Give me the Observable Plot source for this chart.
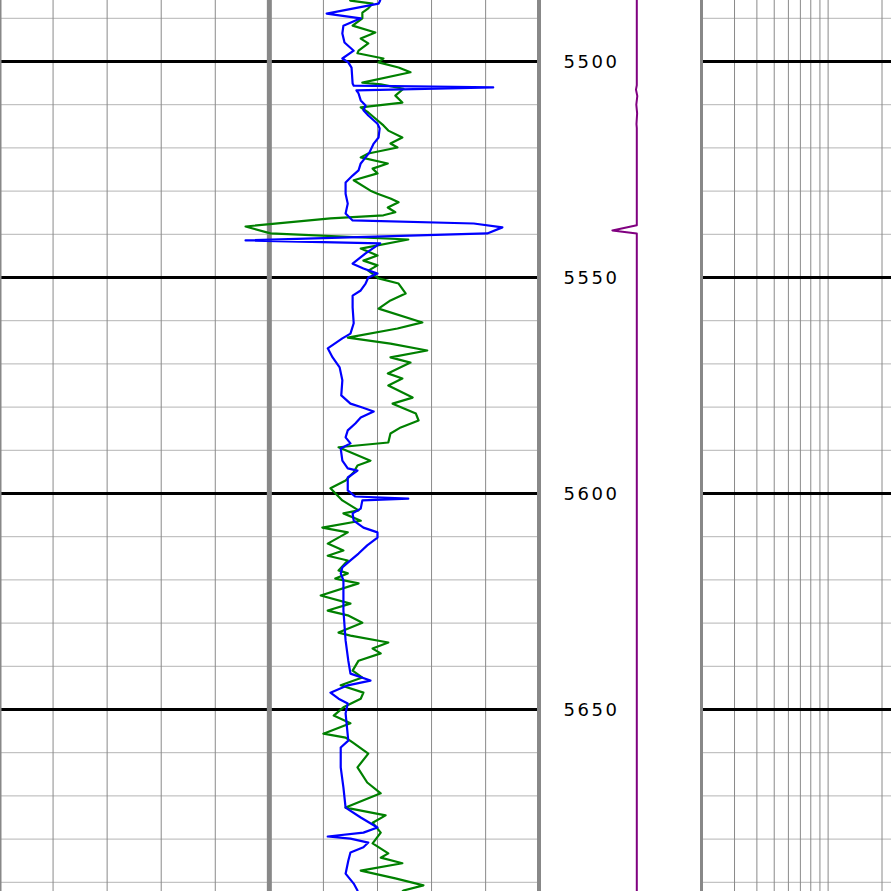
<!DOCTYPE html>
<html>
<head>
<meta charset="utf-8">
<script src="https://cdn.jsdelivr.net/npm/d3@7"></script>
<script src="https://cdn.jsdelivr.net/npm/@observablehq/plot@0.6"></script>
<style>
html, body { margin: 0; padding: 0; background: #fff; }
#wrap { position: relative; width: 891px; height: 891px; overflow: hidden; background: #fff; }
#wrap > svg { position: absolute; top: 0; }
</style>
</head>
<body>
<div id="wrap"></div>
<script>
// ---- Depth scale / ticks ----
const depthTop = 5485.88;
const depthBottom = 5692.13;
const majorDepths = [5500, 5550, 5600, 5650];
const minorDepths = [5490, 5510, 5520, 5530, 5540, 5560, 5570, 5580, 5590, 5610, 5620, 5630, 5640, 5660, 5670, 5680, 5690];
const depthLabels = ["5500", "5550", "5600", "5650"];

// ---- Left (linear) track grid ----
const linearThin = [10, 20, 30, 40, 60, 70, 80, 90];
const linearThick = [0, 50, 100];

// ---- Right (log) track grid ----
const logTicks = [0.3, 0.4, 0.5, 0.6, 0.7, 0.8, 0.9, 1, 2, 3, 4, 5];

// ---- Green curve ----
const greenDepth = [5484.0, 5485.9, 5486.6, 5487.7, 5488.7, 5490.0, 5491.7, 5493.3, 5494.7, 5495.8, 5497.5, 5498.1, 5499.3, 5500.2, 5501.4, 5502.5, 5504.9, 5505.3, 5506.3, 5507.9, 5509.5, 5510.6, 5511.8, 5513.2, 5514.8, 5516.0, 5517.6, 5519.0, 5519.9, 5521.3, 5522.2, 5523.6, 5524.8, 5525.9, 5527.5, 5529.9, 5530.6, 5531.7, 5532.6, 5533.8, 5534.9, 5535.6, 5536.3, 5538.2, 5539.8, 5541.2, 5543.3, 5544.9, 5546.1, 5547.2, 5548.4, 5550.2, 5551.4, 5553.7, 5555.3, 5557.2, 5560.4, 5561.8, 5563.9, 5565.3, 5566.9, 5568.5, 5569.7, 5572.2, 5573.4, 5575.0, 5577.8, 5579.2, 5581.5, 5583.1, 5584.7, 5586.1, 5588.2, 5589.3, 5592.4, 5593.5, 5595.1, 5597.0, 5598.8, 5601.6, 5603.9, 5604.6, 5606.3, 5607.9, 5609.0, 5611.6, 5613.2, 5614.4, 5615.5, 5617.8, 5618.5, 5619.7, 5620.8, 5623.6, 5625.5, 5627.1, 5628.2, 5629.9, 5632.2, 5632.9, 5634.5, 5635.9, 5637.0, 5638.7, 5641.0, 5642.6, 5644.4, 5646.1, 5647.5, 5649.5, 5651.4, 5653.2, 5655.6, 5656.5, 5657.6, 5660.2, 5663.4, 5666.9, 5669.4, 5672.7, 5674.5, 5676.2, 5678.5, 5681.0, 5683.3, 5684.3, 5685.6, 5687.3, 5689.1, 5690.7, 5691.9, 5693.7];
const greenValue = [64.1, 65.0, 69.1, 68.3, 67.2, 67.2, 65.4, 69.6, 66.9, 68.3, 66.5, 66.3, 71.1, 70.2, 73.9, 76.1, 67.2, 70.6, 74.8, 73.3, 74.6, 66.9, 68.3, 69.6, 71.1, 72.0, 74.6, 72.4, 73.7, 68.3, 66.9, 71.9, 69.1, 70.0, 65.6, 68.7, 70.0, 72.4, 73.9, 71.9, 73.3, 71.1, 61.3, 45.6, 50.2, 75.7, 66.9, 70.0, 67.4, 70.0, 68.3, 70.2, 73.9, 75.2, 72.4, 70.2, 78.3, 73.7, 64.5, 72.4, 79.2, 72.4, 76.1, 71.9, 74.6, 72.0, 76.5, 72.8, 77.1, 77.6, 74.3, 72.4, 72.0, 62.8, 68.7, 66.3, 65.6, 64.1, 61.3, 63.5, 66.5, 63.7, 66.9, 59.8, 64.5, 60.8, 63.7, 60.8, 64.5, 62.8, 64.5, 62.2, 66.5, 59.5, 65.0, 60.8, 64.5, 67.2, 62.8, 65.0, 72.0, 69.1, 70.6, 66.5, 65.4, 67.2, 63.2, 67.4, 66.9, 63.7, 61.9, 65.0, 60.0, 64.1, 65.4, 68.3, 66.3, 68.1, 70.6, 64.1, 71.5, 69.1, 70.6, 69.1, 72.0, 70.6, 74.6, 66.9, 73.3, 78.5, 74.8, 73.3];

// ---- Blue curve ----
const blueDepth = [5484.0, 5485.9, 5486.6, 5488.9, 5490.0, 5491.7, 5493.5, 5495.6, 5497.5, 5499.3, 5500.2, 5501.4, 5505.1, 5505.6, 5506.0, 5506.7, 5507.4, 5509.0, 5510.2, 5511.3, 5512.5, 5514.4, 5515.5, 5517.6, 5519.0, 5521.1, 5522.2, 5523.6, 5525.2, 5526.4, 5528.0, 5530.6, 5532.9, 5535.2, 5536.8, 5537.5, 5538.4, 5539.8, 5541.4, 5542.1, 5544.4, 5546.8, 5547.9, 5549.1, 5550.0, 5551.4, 5553.0, 5554.2, 5556.9, 5560.6, 5563.0, 5564.1, 5566.4, 5568.5, 5570.8, 5573.8, 5577.3, 5579.2, 5580.1, 5581.0, 5582.4, 5583.8, 5585.4, 5587.0, 5588.4, 5589.6, 5592.4, 5594.2, 5594.7, 5596.3, 5599.3, 5600.7, 5601.2, 5601.6, 5603.5, 5604.6, 5606.3, 5607.9, 5609.0, 5610.2, 5612.0, 5613.9, 5615.5, 5617.1, 5618.5, 5620.1, 5627.1, 5634.0, 5638.7, 5641.7, 5643.3, 5644.4, 5646.1, 5647.5, 5648.6, 5650.9, 5657.2, 5658.8, 5663.4, 5668.1, 5672.7, 5675.0, 5677.3, 5678.5, 5679.4, 5679.9, 5680.8, 5681.9, 5683.1, 5685.0, 5688.0, 5690.3, 5691.9, 5694.2];
const blueValue = [69.6, 70.5, 70.2, 60.6, 66.9, 63.7, 63.5, 63.9, 65.6, 63.5, 64.6, 65.2, 65.4, 65.6, 91.4, 66.1, 66.5, 66.9, 67.8, 67.4, 68.3, 70.0, 70.4, 70.2, 69.3, 68.5, 67.8, 66.9, 66.5, 65.4, 64.1, 64.1, 64.5, 64.1, 65.4, 87.8, 93.1, 90.3, 45.6, 70.5, 67.8, 65.4, 67.4, 70.0, 68.3, 67.8, 66.9, 65.4, 65.4, 65.6, 65.0, 63.5, 60.8, 61.7, 63.0, 63.5, 63.3, 65.0, 67.2, 69.3, 66.9, 65.9, 64.5, 64.1, 65.0, 63.2, 63.5, 64.5, 66.3, 64.5, 64.5, 65.9, 75.7, 67.2, 66.9, 65.4, 65.6, 67.4, 70.0, 70.0, 68.1, 66.5, 65.0, 63.5, 63.2, 63.7, 63.7, 64.1, 64.6, 65.0, 68.7, 64.5, 61.3, 62.8, 64.5, 64.1, 64.6, 63.2, 63.2, 63.7, 64.1, 66.9, 70.0, 67.4, 60.8, 65.0, 68.3, 67.4, 65.0, 64.6, 64.1, 65.6, 66.3, 66.5];

// ---- Purple curve (depth track) ----
const purpleDepth = [5484.0, 5505.5, 5506.5, 5508.0, 5510.0, 5512.0, 5514.5, 5515.4, 5537.9, 5539.1, 5539.8, 5695.0];
const purpleValue = [12.0, 12.0, 11.95, 12.03, 11.97, 12.02, 11.98, 12.0, 12.0, 10.5, 12.0, 12.0];

const H = 891;
const yScale = {domain: [depthTop, depthBottom], range: [0, H]};
const wrap = document.getElementById("wrap");

const idx = n => d3.range(n);

// Left linear track
const left = Plot.plot({
  width: 538, height: H, margin: 0,
  x: {domain: [0, 100], range: [-1.5, 539.2], axis: null},
  y: {...yScale, axis: null},
  style: {background: "#fff"},
  marks: [
    Plot.ruleY(minorDepths, {stroke: "#b4b4b4", strokeWidth: 1}),
    Plot.ruleX(linearThin, {stroke: "#8a8a8a", strokeWidth: 1}),
    Plot.ruleY(majorDepths, {stroke: "#000", strokeWidth: 3}),
    Plot.ruleX(linearThick, {stroke: "#888", strokeWidth: 5}),
    Plot.line(idx(greenDepth.length), {x: i => greenValue[i], y: i => greenDepth[i], stroke: "#008000", strokeWidth: 2.2, clip: true}),
    Plot.line(idx(blueDepth.length), {x: i => blueValue[i], y: i => blueDepth[i], stroke: "#0000ff", strokeWidth: 2.2, clip: true})
  ]
});
left.style.left = "0px";
wrap.appendChild(left);

// Right log track
const right = Plot.plot({
  width: 188, height: H, margin: 0,
  x: {type: "log", domain: [0.2, 2000], range: [-0.5, 715.5], axis: null},
  y: {...yScale, axis: null},
  style: {background: "#fff"},
  marks: [
    Plot.ruleY(minorDepths, {stroke: "#b4b4b4", strokeWidth: 1}),
    Plot.ruleX(logTicks, {stroke: "#8a8a8a", strokeWidth: 1}),
    Plot.ruleY(majorDepths, {stroke: "#000", strokeWidth: 3})
  ]
});
right.style.left = "703px";
wrap.appendChild(right);

// Depth track
const depth = Plot.plot({
  width: 166, height: H, margin: 0,
  x: {domain: [6, 16], range: [1.5, 164.5], axis: null},
  y: {...yScale, axis: null},
  style: {background: "transparent"},
  marks: [
    Plot.ruleX([6, 16], {stroke: "#888", strokeWidth: 4}),
    Plot.text(depthLabels, {
      y: d => +d, text: d => d, frameAnchor: "left", dx: 54, dy: 1,
      textAnchor: "middle", fontFamily: "DejaVu Sans", fontSize: 18, fill: "#000"
    }),
    Plot.line(idx(purpleDepth.length), {x: i => purpleValue[i], y: i => purpleDepth[i], stroke: "#800080", strokeWidth: 2, clip: true})
  ]
});
depth.style.left = "537px";
d3.select(depth).selectAll("text").style("letter-spacing", "2.5px");
wrap.appendChild(depth);
</script>
</body>
</html>
